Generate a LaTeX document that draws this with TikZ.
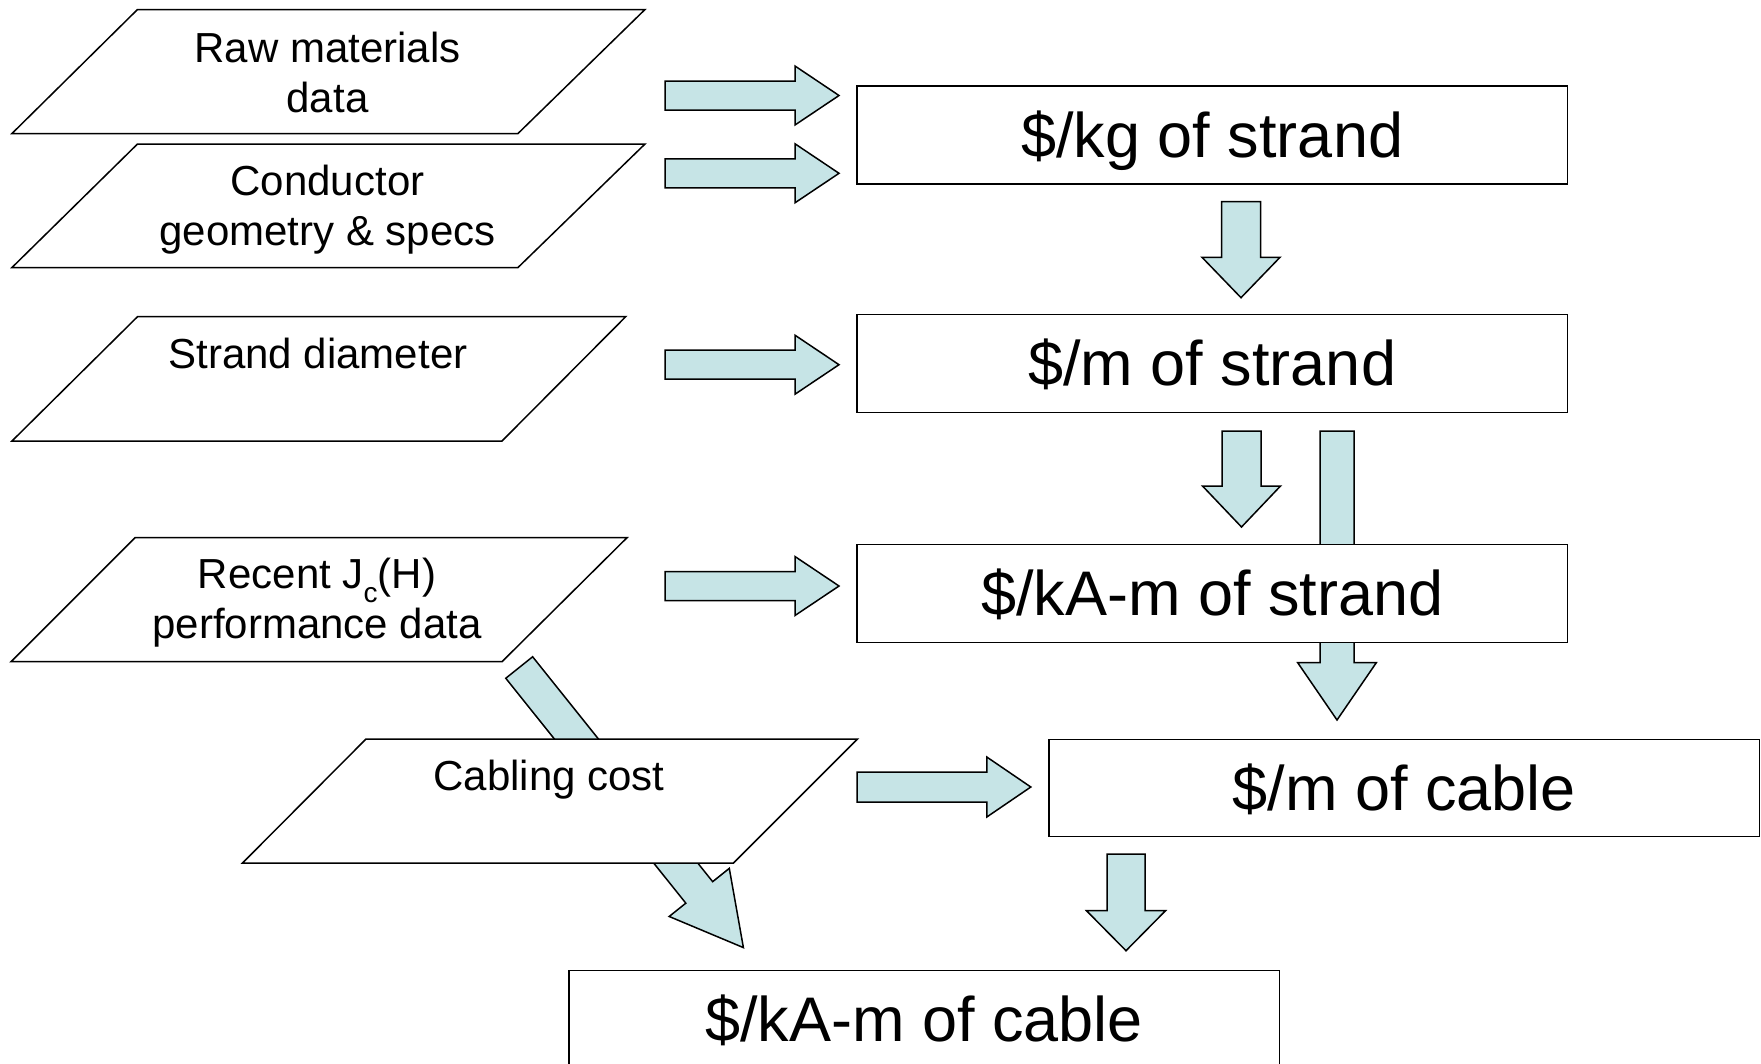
\documentclass[tikz,border=0pt]{standalone}
\usepackage{fontspec}
\setmainfont{Liberation Sans}
\usetikzlibrary{calc}
\definecolor{arrowfill}{HTML}{C6E4E6}
\tikzset{
  outline/.style={draw=black, line width=1.5pt, line join=miter},
  blockarr/.style={outline, fill=arrowfill},
  parashape/.style={outline, fill=white},
  resultbox/.style={rectangle, outline, fill=white, inner sep=0pt,
    minimum width=710.5pt, minimum height=98pt, text height=50pt, text depth=6pt,
    font={\fontsize{63}{70}\selectfont}},
  inlabel/.style={inner sep=0pt, align=center, font={\fontsize{42}{50}\selectfont}},
}
% block arrow: start, tip, shaft half-width, head half-width, head length
\newcommand\blockarrow[5]{%
  \coordinate (ba-h) at ($(#2)!#5!(#1)$);
  \filldraw[blockarr] ($(#1)!#3!90:(#2)$) -- ($(ba-h)!#3!-90:(#1)$)
    -- ($(ba-h)!#4!-90:(#1)$) -- (#2) -- ($(ba-h)!#4!90:(#1)$)
    -- ($(ba-h)!#3!90:(#1)$) -- ($(#1)!#3!-90:(#2)$) -- cycle;}
\newcommand\lowsub[1]{\raisebox{-14pt}{\fontsize{28}{28}\selectfont #1}}
\begin{document}
\begin{tikzpicture}[x=1pt, y=-1pt]
\useasboundingbox (0,0) rectangle (1761,1063);

% arrow end coordinates
\coordinate (a1s) at (665,95.5);   \coordinate (a1t) at (839,95.5);
\coordinate (a2s) at (665,173.3);  \coordinate (a2t) at (839,173.3);
\coordinate (a3s) at (665,364.7);  \coordinate (a3t) at (839,364.7);
\coordinate (a4s) at (665,586);    \coordinate (a4t) at (839,586);
\coordinate (a5s) at (857,787);    \coordinate (a5t) at (1030.8,787);
\coordinate (d1s) at (1241,201.7); \coordinate (d1t) at (1241,297.7);
\coordinate (d2s) at (1241.5,431); \coordinate (d2t) at (1241.5,527);
\coordinate (d3s) at (1337,431);   \coordinate (d3t) at (1337,720);
\coordinate (d4s) at (1126,854);   \coordinate (d4t) at (1126,950.7);
\coordinate (g1s) at (519.2,667.5); \coordinate (g1t) at (743.4,947.6);

% arrows lying behind shapes
\blockarrow{d3s}{d3t}{17pt}{39.3pt}{57.3pt}
\blockarrow{g1s}{g1t}{17.2pt}{38.5pt}{70.7pt}

% input parallelograms
\filldraw[parashape] (137.5,9.5) -- (645,9.5) -- (518,133.5) -- (12,133.5) -- cycle;
\filldraw[parashape] (137.5,144) -- (645,144) -- (518,267.5) -- (12,267.5) -- cycle;
\filldraw[parashape] (137.5,316.7) -- (625.7,316.7) -- (502,441) -- (12,441) -- cycle;
\filldraw[parashape] (135,537.7) -- (627,537.7) -- (502,661.7) -- (11,661.7) -- cycle;
\filldraw[parashape] (366,739) -- (857.5,739) -- (733.5,863) -- (242.5,863) -- cycle;

\node[inlabel] (p1) at (327.5,77.3) {\strut Raw materials\\\strut data};
\node[inlabel] (p2) at (327.5,210) {\strut Conductor\\\strut geometry \& specs};
\node[inlabel, anchor=base] (p3) at (318,368.3) {Strand diameter};
\node[inlabel] (p4) at (317,603.3) {\strut Recent J\lowsub{c}(H)\\\strut performance data};
\node[inlabel, anchor=base] (p5) at (549,790) {Cabling cost};

% result boxes
\node[resultbox] (b1) at (1212.25,135) {\$/kg of strand};
\node[resultbox] (b2) at (1212.25,363.6) {\$/m of strand};
\node[resultbox] (b3) at (1212.25,593.7) {\$/kA-m of strand};
\node[resultbox, minimum height=97.4pt] (b4) at (1404.2,788) {\$/m of cable};
\node[resultbox] (b5) at (924.1,1019.4) {\$/kA-m of cable};

% remaining arrows
\blockarrow{a1s}{a1t}{14.5pt}{29.5pt}{44pt}
\blockarrow{a2s}{a2t}{14.5pt}{29.5pt}{44pt}
\blockarrow{a3s}{a3t}{14.5pt}{29.5pt}{44pt}
\blockarrow{a4s}{a4t}{14.5pt}{29.5pt}{44pt}
\blockarrow{a5s}{a5t}{15pt}{30pt}{44pt}
\blockarrow{d1s}{d1t}{19.5pt}{39pt}{40.4pt}
\blockarrow{d2s}{d2t}{19.5pt}{39pt}{41pt}
\blockarrow{d4s}{d4t}{19pt}{39.5pt}{40pt}
\end{tikzpicture}
\end{document}
